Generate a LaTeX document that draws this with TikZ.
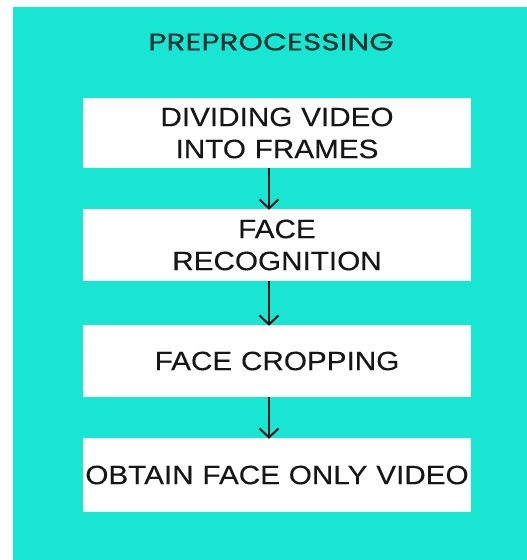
\documentclass[tikz,border=0pt]{standalone}
\usepackage{fontspec}
\setmainfont{Liberation Sans}
\newfontfamily\titlefont[FakeStretch=1.3,FakeBold=0.4]{Poppins}
\newfontfamily\boxfont[FakeStretch=1.12,FakeBold=0.2]{Liberation Sans}
\usetikzlibrary{arrows.meta}
\definecolor{panel}{RGB}{24,230,210}
\definecolor{ink}{RGB}{22,22,22}
\definecolor{titleink}{RGB}{16,48,48}
\tikzset{
  stagebox/.style={fill=white, draw=none, minimum width=388pt, text width=388pt,
    align=center, inner sep=0pt, font=\boxfont\fontsize{26.5}{32}\selectfont, text=ink},
  flow/.style={draw=ink, line width=2pt, -{Straight Barb[length=9pt,width=19pt,line width=2pt]}},
}
\begin{document}
\begin{tikzpicture}[x=1pt,y=-1pt]
  \useasboundingbox (0,0) rectangle (527,560);
  \fill[panel] (13,7) rectangle (527,560);
  \node[font=\titlefont\fontsize{24}{26}\selectfont, text=titleink] (title) at (271,42) {PREPROCESSING};
  \node[stagebox, minimum height=70pt] (s1) at (277,133) {DIVIDING VIDEO\\INTO FRAMES};
  \node[stagebox, minimum height=72pt] (s2) at (277,245) {FACE\\RECOGNITION};
  \node[stagebox, minimum height=72pt] (s3) at (277,361) {FACE CROPPING};
  \node[stagebox, minimum height=74pt] (s4) at (277,475) {OBTAIN FACE ONLY VIDEO};
  \draw[flow] (s1.south -| 269,0) -- ([yshift=-1pt]s2.north -| 269,0);
  \draw[flow] (s2.south -| 269,0) -- ([yshift=-1pt]s3.north -| 269,0);
  \draw[flow] (s3.south -| 269,0) -- ([yshift=-1pt]s4.north -| 269,0);
\end{tikzpicture}
\end{document}
